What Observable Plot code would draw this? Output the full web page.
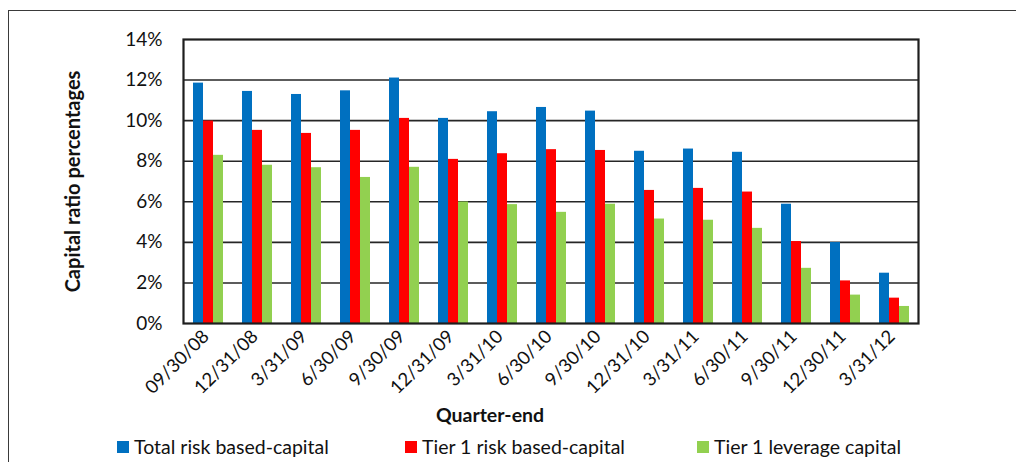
<!DOCTYPE html>
<html>
<head>
<meta charset="utf-8">
<script src="https://cdn.jsdelivr.net/npm/d3@7"></script>
<script src="https://cdn.jsdelivr.net/npm/@observablehq/plot@0.6"></script>
<style>
  html, body { margin: 0; padding: 0; background: #fff; }
  body { width: 1016px; height: 462px; position: relative; overflow: hidden; font-family: Lato, "Open Sans", sans-serif; color: #111; }
  #border { position: absolute; left: 8px; top: 10px; width: 1200px; height: 600px; border: 1px solid #3a3a3a; box-sizing: border-box; }
  #chart { position: absolute; left: 0; top: 0; }
  #chart svg [aria-label="y-axis label"] { font-weight: bold; font-size: 20px; }
  .xtitle { position: absolute; top: 403px; left: 490px; transform: translateX(-50%); font-weight: bold; font-size: 19.5px; }
  .legend-item { position: absolute; top: 435px; font-size: 19.5px; display: flex; align-items: center; white-space: nowrap; }
  .legend-item .sw { width: 12px; height: 12px; margin-right: 5px; }
</style>
</head>
<body>
<div id="border"></div>
<div id="chart"></div>
<div class="xtitle">Quarter-end</div>
<div id="legend"></div>
<script>
// Quarter-end dates along the bottom axis
const quarters = ["09/30/08", "12/31/08", "3/31/09", "6/30/09", "9/30/09", "12/31/09", "3/31/10",
  "6/30/10", "9/30/10", "12/31/10", "3/31/11", "6/30/11", "9/30/11", "12/30/11", "3/31/12"];

// Capital ratio series (percent)
const seriesNames = ["Total risk based-capital", "Tier 1 risk based-capital", "Tier 1 leverage capital"];
const totalRiskBased = [11.85, 11.44, 11.29, 11.47, 12.10, 10.11, 10.44, 10.65, 10.47, 8.49, 8.60, 8.44, 5.88, 3.99, 2.48];
const tier1RiskBased = [9.98, 9.52, 9.37, 9.52, 10.11, 8.09, 8.37, 8.57, 8.53, 6.56, 6.66, 6.48, 4.04, 2.10, 1.25];
const tier1Leverage = [8.29, 7.80, 7.68, 7.20, 7.70, 5.99, 5.86, 5.48, 5.88, 5.15, 5.09, 4.69, 2.72, 1.40, 0.84];
const seriesColors = ["#0070C0", "#FF0000", "#92D050"];

const yTicks = [0, 2, 4, 6, 8, 10, 12, 14];

const seriesValues = [totalRiskBased, tier1RiskBased, tier1Leverage];
const rows = quarters.flatMap((q, i) =>
  seriesNames.map((s, k) => ({quarter: q, series: s, value: seriesValues[k][i]}))
);

const chart = Plot.plot({
  width: 1016,
  height: 432,
  marginLeft: 181,
  marginRight: 96,
  marginTop: 39,
  marginBottom: 109,
  style: {fontFamily: "Lato, 'Open Sans', sans-serif", fontSize: "19px", color: "#111", background: "transparent"},
  fx: {domain: quarters, padding: 0, label: null},
  x: {domain: seriesNames, axis: null, paddingInner: 0, paddingOuter: 0.74},
  y: {domain: [0, 14], ticks: yTicks, tickFormat: d => d + "%", tickSize: 0, tickPadding: 21,
      label: "Capital ratio percentages", labelAnchor: "center", labelArrow: "none", labelOffset: 118},
  color: {domain: seriesNames, range: seriesColors},
  marks: [
    Plot.ruleY(yTicks.slice(1, -1), {stroke: "#262626", strokeWidth: 1.6}),
    Plot.barY(rows, {fx: "quarter", x: "series", y: "value", fill: "series"}),
    Plot.frame({stroke: "#1e1e1e", strokeWidth: 2.2, facet: "super"}),
    Plot.axisFx({anchor: "bottom", label: null, tickRotate: -45, tickSize: 0, tickPadding: 10, dx: -2, fontSize: 18.5})
  ]
});
document.getElementById("chart").appendChild(chart);

// Legend below the chart
const legendLefts = [117, 405, 697];
const legend = document.getElementById("legend");
seriesNames.forEach((name, k) => {
  const item = document.createElement("div");
  item.className = "legend-item";
  item.style.left = legendLefts[k] + "px";
  const sw = document.createElement("span");
  sw.className = "sw";
  sw.style.background = seriesColors[k];
  const label = document.createElement("span");
  label.textContent = name;
  item.appendChild(sw);
  item.appendChild(label);
  legend.appendChild(item);
});
</script>
</body>
</html>
